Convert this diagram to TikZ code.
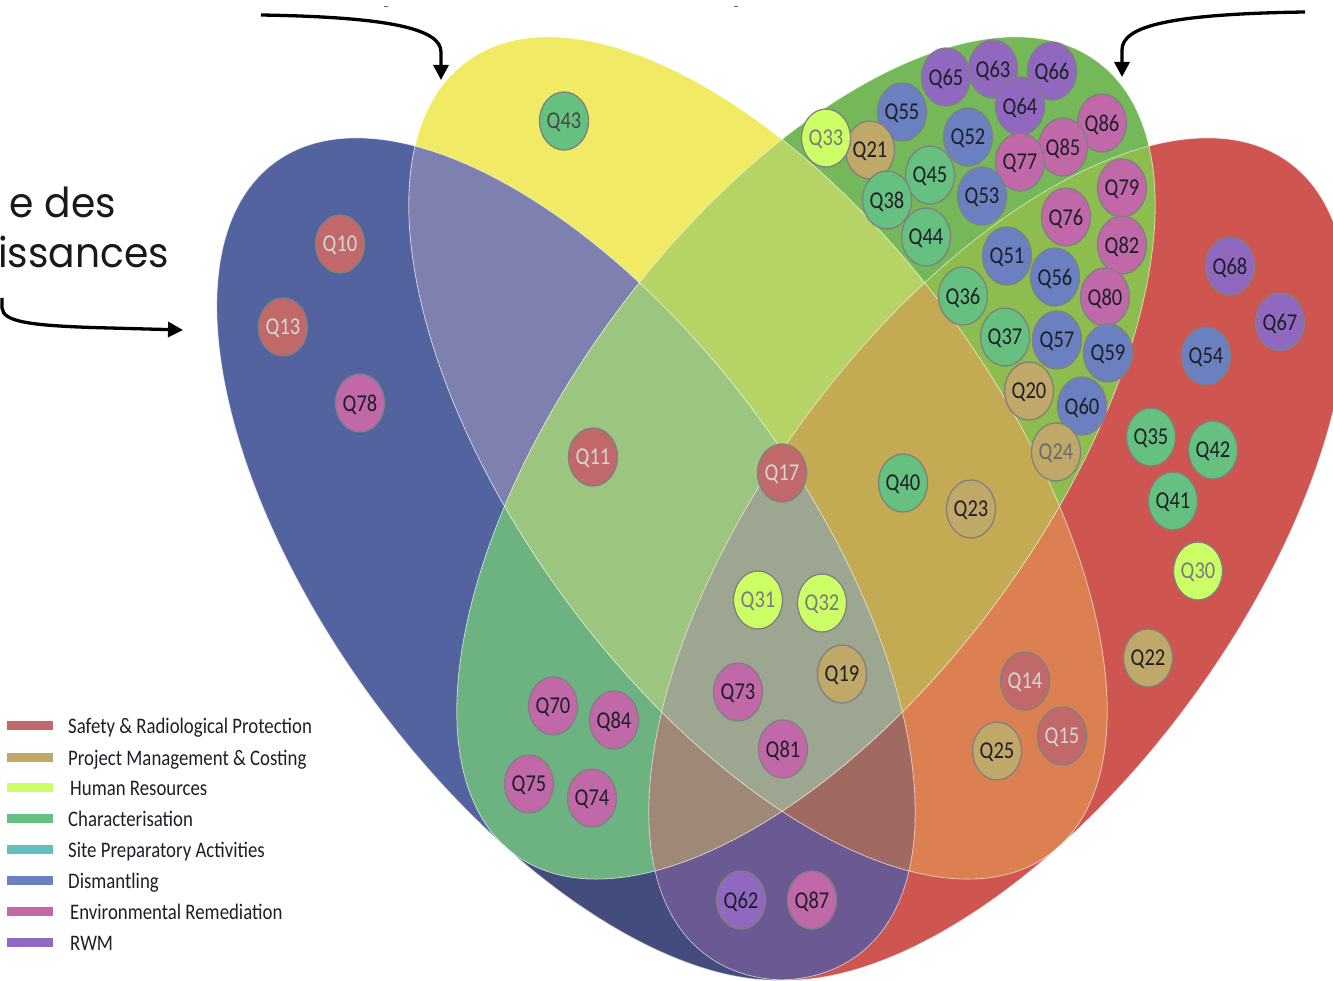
\documentclass[tikz,border=0pt]{standalone}
\usepackage{fontspec}
\usepackage{graphicx}
\setmainfont{Carlito}
\newfontfamily\gfont{Poppins}
\usetikzlibrary{shapes.geometric,arrows.meta}
% region colours
\definecolor{rA}{HTML}{5263A0}
\definecolor{rNavy}{HTML}{434C7C}
\definecolor{rB}{HTML}{F0EA64}
\definecolor{rC}{HTML}{75B85A}
\definecolor{rD}{HTML}{CF5650}
\definecolor{rAB}{HTML}{7E81B0}
\definecolor{rAC}{HTML}{6DB382}
\definecolor{rAD}{HTML}{6B5993}
\definecolor{rBC}{HTML}{B6D466}
\definecolor{rBD}{HTML}{DC8052}
\definecolor{rCD}{HTML}{8DBD4E}
\definecolor{rABC}{HTML}{9CC680}
\definecolor{rABD}{HTML}{A06A62}
\definecolor{rACD}{HTML}{A08878}
\definecolor{rBCD}{HTML}{C4AA52}
\definecolor{rABCD}{HTML}{9CA690}
% category colours
\definecolor{cS}{HTML}{C0686A}
\definecolor{cP}{HTML}{C0A868}
\definecolor{cH}{HTML}{CCFF66}
\definecolor{cCh}{HTML}{66C080}
\definecolor{cSP}{HTML}{60C0C0}
\definecolor{cDi}{HTML}{6A80C0}
\definecolor{cE}{HTML}{C068A8}
\definecolor{cR}{HTML}{9068C0}
\definecolor{qborder}{HTML}{808080}
\definecolor{qdark}{HTML}{1E1E28}
\definecolor{qlight}{HTML}{D6D6D6}
\definecolor{qgray}{HTML}{7A7A7A}
\newcommand\vstr[1]{\scalebox{1}[1.18]{#1}}
\newcommand\bstr[1]{\scalebox{1.12}[1.18]{#1}}
\tikzset{
  EA/.style={shift={(566,559)},rotate=-53.7},
  EB/.style={shift={(758,458)},rotate=-53.7},
  EC/.style={shift={(806,458)},rotate=53.7},
  ED/.style={shift={(998,559)},rotate=53.7},
  q/.style={ellipse, draw=qborder, line width=1.3pt, minimum width=49pt,
    minimum height=58pt, inner sep=0pt, text=qdark, text depth=0pt,
    font=\fontsize{20.5}{24}\selectfont},
  qS/.style={q, fill=cS, text=qlight},
  qP/.style={q, fill=cP},
  qH/.style={q, fill=cH, text=qgray},
  qCh/.style={q, fill=cCh},
  qDi/.style={q, fill=cDi},
  qE/.style={q, fill=cE},
  qR/.style={q, fill=cR},
  swatch/.style={rectangle, minimum width=46pt, minimum height=9pt, inner sep=0pt},
  leg/.style={anchor=base west, inner sep=0pt, text=qdark, font=\fontsize{18.8}{22}\selectfont},
  big/.style={anchor=base east, inner sep=0pt, text=black!90, font=\gfont\fontsize{35}{40}\selectfont},
  arr/.style={line width=3.3pt, -{Triangle[length=15pt,width=15pt]}},
  outl/.style={draw=white, draw opacity=0.6, line width=0.8pt},
}
\begin{document}
\begin{tikzpicture}[x=1pt,y=-1pt]
\useasboundingbox (0,0) rectangle (1333,981);
\begin{scope}
\clip (0,0) rectangle (1333,981);
% single sets
\fill[rA,EA] (0,0) ellipse [x radius=492pt,y radius=239pt];
\fill[rB,EB] (0,0) ellipse [x radius=492pt,y radius=239pt];
\fill[rC,EC] (0,0) ellipse [x radius=492pt,y radius=239pt];
\fill[rD,ED] (0,0) ellipse [x radius=492pt,y radius=239pt];
% lower part of blue-only region
\begin{scope}
\clip[EA] (0,0) ellipse [x radius=492pt,y radius=239pt];
\fill[rNavy] (270,1100) -- (1370,0) -- (1500,1200) -- (270,1200) -- cycle;
\end{scope}
% pairs
\begin{scope}\clip[EA] (0,0) ellipse [x radius=492pt,y radius=239pt];
\fill[rAB,EB] (0,0) ellipse [x radius=492pt,y radius=239pt];\end{scope}
\begin{scope}\clip[EA] (0,0) ellipse [x radius=492pt,y radius=239pt];
\fill[rAC,EC] (0,0) ellipse [x radius=492pt,y radius=239pt];\end{scope}
\begin{scope}\clip[EA] (0,0) ellipse [x radius=492pt,y radius=239pt];
\fill[rAD,ED] (0,0) ellipse [x radius=492pt,y radius=239pt];\end{scope}
\begin{scope}\clip[EB] (0,0) ellipse [x radius=492pt,y radius=239pt];
\fill[rBC,EC] (0,0) ellipse [x radius=492pt,y radius=239pt];\end{scope}
\begin{scope}\clip[EB] (0,0) ellipse [x radius=492pt,y radius=239pt];
\fill[rBD,ED] (0,0) ellipse [x radius=492pt,y radius=239pt];\end{scope}
\begin{scope}\clip[EC] (0,0) ellipse [x radius=492pt,y radius=239pt];
\fill[rCD,ED] (0,0) ellipse [x radius=492pt,y radius=239pt];\end{scope}
% triples
\begin{scope}\clip[EA] (0,0) ellipse [x radius=492pt,y radius=239pt];
\clip[EB] (0,0) ellipse [x radius=492pt,y radius=239pt];
\fill[rABC,EC] (0,0) ellipse [x radius=492pt,y radius=239pt];\end{scope}
\begin{scope}\clip[EA] (0,0) ellipse [x radius=492pt,y radius=239pt];
\clip[EB] (0,0) ellipse [x radius=492pt,y radius=239pt];
\fill[rABD,ED] (0,0) ellipse [x radius=492pt,y radius=239pt];\end{scope}
\begin{scope}\clip[EA] (0,0) ellipse [x radius=492pt,y radius=239pt];
\clip[EC] (0,0) ellipse [x radius=492pt,y radius=239pt];
\fill[rACD,ED] (0,0) ellipse [x radius=492pt,y radius=239pt];\end{scope}
\begin{scope}\clip[EB] (0,0) ellipse [x radius=492pt,y radius=239pt];
\clip[EC] (0,0) ellipse [x radius=492pt,y radius=239pt];
\fill[rBCD,ED] (0,0) ellipse [x radius=492pt,y radius=239pt];\end{scope}
% all four
\begin{scope}\clip[EA] (0,0) ellipse [x radius=492pt,y radius=239pt];
\clip[EB] (0,0) ellipse [x radius=492pt,y radius=239pt];
\clip[EC] (0,0) ellipse [x radius=492pt,y radius=239pt];
\fill[rABCD,ED] (0,0) ellipse [x radius=492pt,y radius=239pt];\end{scope}
% thin white outlines
\path[outl,EA] (0,0) ellipse [x radius=492pt,y radius=239pt];
\path[outl,EB] (0,0) ellipse [x radius=492pt,y radius=239pt];
\path[outl,EC] (0,0) ellipse [x radius=492pt,y radius=239pt];
\path[outl,ED] (0,0) ellipse [x radius=492pt,y radius=239pt];
\end{scope}

% tiny marks at the top
\draw[line width=1pt, black!60] (384,7) -- (388,7);
\draw[line width=1pt, black!60] (734,7) -- (738,7);

% arrows
\coordinate (a1s) at (261,15);
\coordinate (a1e) at (441,80);
\draw[arr] (a1s) .. controls (385,17) and (441,28) .. (441,52) -- (a1e);
\coordinate (a2s) at (1305,12);
\coordinate (a2e) at (1122,77);
\draw[arr] (a2s) .. controls (1170,14) and (1122,26) .. (1122,50) -- (a2e);
\coordinate (a3s) at (2,298);
\coordinate (a3e) at (183,330);
\draw[arr] (a3s) -- (2,308) .. controls (3,322) and (30,326) .. (110,328) -- (a3e);

% cropped text
\node[big] (t1) at (116,218) {\bstr{e des}};
\node[big] (t2) at (169,268) {\bstr{issances}};

% question bubbles
\node[qS] (Q10) at (340,244) {\vstr{Q10}};
\node[qS] (Q13) at (283,327) {\vstr{Q13}};
\node[qE] (Q78) at (360,403) {\vstr{Q78}};
\node[qCh, text=black!72] (Q43) at (564,121) {\vstr{Q43}};
\node[qR] (Q65) at (946,77) {\vstr{Q65}};
\node[qR] (Q63) at (993,69) {\vstr{Q63}};
\node[qR] (Q66) at (1052,71) {\vstr{Q66}};
\node[qR] (Q64) at (1020,106) {\vstr{Q64}};
\node[qDi] (Q55) at (902,112) {\vstr{Q55}};
\node[qP] (Q21) at (870,150) {\vstr{Q21}};
\node[qH] (Q33) at (826,138) {\vstr{Q33}};
\node[qDi] (Q52) at (968,137) {\vstr{Q52}};
\node[qE] (Q86) at (1102,123) {\vstr{Q86}};
\node[qE] (Q85) at (1063,147) {\vstr{Q85}};
\node[qE] (Q77) at (1020,162) {\vstr{Q77}};
\node[qCh] (Q45) at (930,175) {\vstr{Q45}};
\node[qCh] (Q38) at (887,200) {\vstr{Q38}};
\node[qDi] (Q53) at (982,196) {\vstr{Q53}};
\node[qCh] (Q44) at (926,237) {\vstr{Q44}};
\node[qE] (Q79) at (1122,188) {\vstr{Q79}};
\node[qE] (Q76) at (1066,217) {\vstr{Q76}};
\node[qE] (Q82) at (1122,245) {\vstr{Q82}};
\node[qDi] (Q51) at (1007,256) {\vstr{Q51}};
\node[qDi] (Q56) at (1055,277) {\vstr{Q56}};
\node[qE] (Q80) at (1105,297) {\vstr{Q80}};
\node[qCh] (Q36) at (963,296) {\vstr{Q36}};
\node[qCh] (Q37) at (1005,337) {\vstr{Q37}};
\node[qDi] (Q57) at (1057,340) {\vstr{Q57}};
\node[qDi] (Q59) at (1108,353) {\vstr{Q59}};
\node[qP] (Q20) at (1029,391) {\vstr{Q20}};
\node[qDi] (Q60) at (1082,406) {\vstr{Q60}};
\node[qP, text=black!58] (Q24) at (1056,452) {\vstr{Q24}};
\node[qS] (Q11) at (593,457) {\vstr{Q11}};
\node[qS] (Q17) at (782,473) {\vstr{Q17}};
\node[qCh] (Q40) at (903,483) {\vstr{Q40}};
\node[qP] (Q23) at (971,509) {\vstr{Q23}};
\node[qH] (Q31) at (758,600) {\vstr{Q31}};
\node[qH] (Q32) at (822,603) {\vstr{Q32}};
\node[qP] (Q19) at (842,674) {\vstr{Q19}};
\node[qE] (Q73) at (738,692) {\vstr{Q73}};
\node[qE] (Q81) at (783,749) {\vstr{Q81}};
\node[qE] (Q70) at (553,706) {\vstr{Q70}};
\node[qE] (Q84) at (614,720) {\vstr{Q84}};
\node[qE] (Q75) at (529,784) {\vstr{Q75}};
\node[qE] (Q74) at (592,798) {\vstr{Q74}};
\node[qR] (Q62) at (741,900) {\vstr{Q62}};
\node[qE] (Q87) at (812,900) {\vstr{Q87}};
\node[qS] (Q14) at (1025,681) {\vstr{Q14}};
\node[qS] (Q15) at (1062,736) {\vstr{Q15}};
\node[qP] (Q25) at (997,751) {\vstr{Q25}};
\node[qR] (Q68) at (1230,266) {\vstr{Q68}};
\node[qR] (Q67) at (1280,322) {\vstr{Q67}};
\node[qDi] (Q54) at (1206,356) {\vstr{Q54}};
\node[qCh] (Q35) at (1151,437) {\vstr{Q35}};
\node[qCh] (Q42) at (1213,450) {\vstr{Q42}};
\node[qCh] (Q41) at (1173,501) {\vstr{Q41}};
\node[qH] (Q30) at (1198,571) {\vstr{Q30}};
\node[qP] (Q22) at (1148,658) {\vstr{Q22}};

% legend
\node[swatch, fill=cS]  (s1) at (30,725) {};
\node[swatch, fill=cP]  (s2) at (30,757) {};
\node[swatch, fill=cH]  (s3) at (30,787) {};
\node[swatch, fill=cCh] (s4) at (30,818) {};
\node[swatch, fill=cSP] (s5) at (30,849) {};
\node[swatch, fill=cDi] (s6) at (30,880) {};
\node[swatch, fill=cE]  (s7) at (30,911) {};
\node[swatch, fill=cR]  (s8) at (30,942) {};
\node[leg] (l1) at (68,733) {\vstr{Safety \& Radiological Protection}};
\node[leg] (l2) at (68,765) {\vstr{Project Management \& Costing}};
\node[leg] (l3) at (70,795) {\vstr{Human Resources}};
\node[leg] (l4) at (68,826) {\vstr{Characterisation}};
\node[leg] (l5) at (68,857) {\vstr{Site Preparatory Activities}};
\node[leg] (l6) at (68,888) {\vstr{Dismantling}};
\node[leg] (l7) at (70,919) {\vstr{Environmental Remediation}};
\node[leg] (l8) at (70,950) {\vstr{RWM}};
\end{tikzpicture}
\end{document}
